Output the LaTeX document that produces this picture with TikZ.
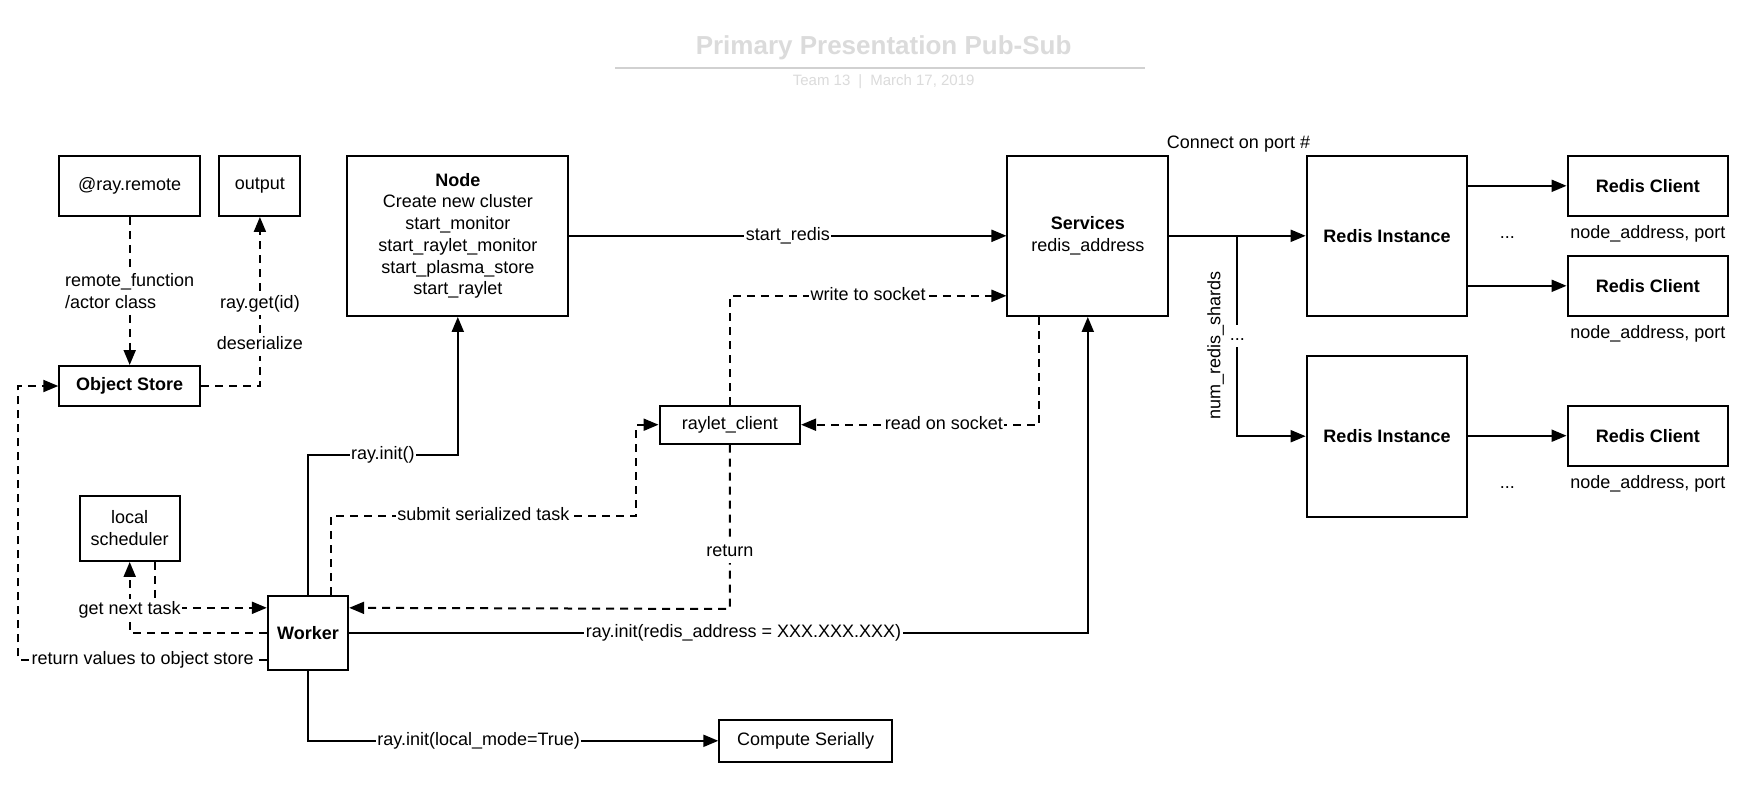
\documentclass[tikz,border=0pt]{standalone}
\usepackage{fontspec}
\setmainfont{Liberation Sans}
\usetikzlibrary{arrows.meta}
\usetikzlibrary{calc}

\begin{document}
\begin{tikzpicture}[x=1pt,y=-1pt,line width=2pt,
    font=\fontsize{18}{21.7}\selectfont,
    bold/.style={font=\fontsize{18}{21.7}\selectfont\bfseries},
    box/.style={draw,inner sep=2pt,align=center},
    flow/.style={-{Triangle[length=15pt,width=12pt]}},
    dflow/.style={flow,dash pattern=on 8pt off 6pt},
    lbl/.style={fill=white,inner sep=1.5pt,text height=14pt,text depth=5pt},
    faint/.style={text=black!14}]
        \path[use as bounding box,fill=white] (0,0) rectangle (1760,790);
        \node[faint,font=\fontsize{26}{31}\selectfont\bfseries] (title) at (883.6,47.3) {Primary Presentation Pub-Sub};
        \draw[black!18] (615,67.7) -- (1144.6,67.7);
        \node[faint,font=\fontsize{15}{18}\selectfont] (team) at (883.7,81.7) {Team 13\hspace{8pt}|\hspace{8pt}March 17, 2019};

        \node[box,minimum width=140.8pt,minimum height=60.3pt] (remote) at (129.7,185.8) {@ray.remote};
        \node[box,minimum width=81.1pt,minimum height=60.3pt] (output) at (259.9,185.8) {output};
        \node[box,minimum width=220.8pt,minimum height=160.3pt] (cluster) at (457.8,235.8)
          {\textbf{Node}\\Create new cluster\\start\_monitor\\start\_raylet\_monitor\\start\_plasma\_store\\start\_raylet};
        \node[box,bold,minimum width=140.8pt,minimum height=40pt] (store) at (129.7,386) {Object Store};
        \node[box,minimum width=100.2pt,minimum height=65.3pt] (sched) at (129.7,528.3) {local\\scheduler};
        \node[box,bold,minimum width=80.3pt,minimum height=74.3pt] (worker) at (308,632.8) {Worker};
        \node[box,minimum width=140.5pt,minimum height=38pt] (raylet) at (729.8,424.7) {raylet\_client};
        \node[box,minimum width=172.8pt,minimum height=41.7pt] (serial) at (805.7,740.8) {Compute Serially};
        \node[box,minimum width=160.7pt,minimum height=160.3pt] (services) at (1087.8,235.8) {\textbf{Services}\\redis\_address};
        \node[box,bold,minimum width=160.7pt,minimum height=160.3pt] (inst1) at (1387,235.8) {Redis Instance};
        \node[box,bold,minimum width=160.7pt,minimum height=161pt] (inst2) at (1387,436.2) {Redis Instance};
        \foreach \n/\y in {1/185.8,2/285.8,3/435.7} {
          \node[box,bold,minimum width=160.7pt,minimum height=60.3pt] (client\n) at (1647.9,\y) {Redis Client};
          \node (addr\n) at (1647.9,\y+48) {node\_address, port};
        }
        \foreach \y in {238,488} {
          \node[anchor=base] (dots\y) at (1507.4,\y) {...};
        }
        \node (port) at (1238.5,144) {Connect on port \#};
        \node[rotate=90] (shards) at (1215.5,345.5) {num\_redis\_shards};

        \draw[dflow] (remote) -- node[fill=white,inner sep=1.5pt,align=left] {remote\_function\\/actor class} (store);
        \draw[dflow] (store.east) -| node[lbl,pos=0.62] {deserialize} node[lbl,pos=0.742] {ray.get(id)} (output.south);
        \draw[dflow] ([yshift=-27pt]worker.west) -| node[lbl,pos=0.25] {return values to object store} ([xshift=-40pt]store.west) -- (store.west);
        \draw[dflow] ([xshift=25pt]sched.south) |- ([yshift=25pt]worker.west);
        \draw[dflow] (worker.west) -| node[lbl,pos=0.66] {get next task} (sched.south);
        \draw[flow] (worker.north) -- ++(0,-140) -| node[lbl,pos=0.25] {ray.init()} (cluster.south);
        \draw[dflow] ([xshift=23pt]worker.north) |- node[lbl,pos=0.75] {submit serialized task} ([xshift=-22.7pt,yshift=-91.3pt]raylet.west) |- (raylet.west);
        \draw[dflow] (raylet.south) -- node[lbl,pos=0.65] {return} ++(0,164.3) -- ([yshift=25pt]worker.east);
        \draw[dflow] (raylet.north) |- node[lbl,pos=0.75] {write to socket} ([yshift=-60pt]services.west);
        \draw[dflow] ([xshift=-48.6pt]services.south) |- node[lbl,pos=0.7] {read on socket} (raylet.east);
        \draw[flow] (worker.east) -| node[lbl,pos=0.267] {ray.init(redis\_address = XXX.XXX.XXX)} (services.south);
        \draw[flow] (worker.south) |- node[lbl,pos=0.708] {ray.init(local\_mode=True)} (serial.west);
        \draw[flow] (cluster.east) -- node[lbl] {start\_redis} (services.west);

        \draw[flow] (services.east) -- (inst1.west);
        \coordinate (split) at ($(services.east)!0.5!(inst1.west)$);
        \draw[flow] (split) |- node[lbl,pos=0.25] {...} (inst2.west);
        \draw[flow] (inst1.east |- client1.west) -- (client1.west);
        \draw[flow] (inst1.east |- client2.west) -- (client2.west);
        \draw[flow] (inst2.east |- client3.west) -- (client3.west);
      \end{tikzpicture}
\end{document}
